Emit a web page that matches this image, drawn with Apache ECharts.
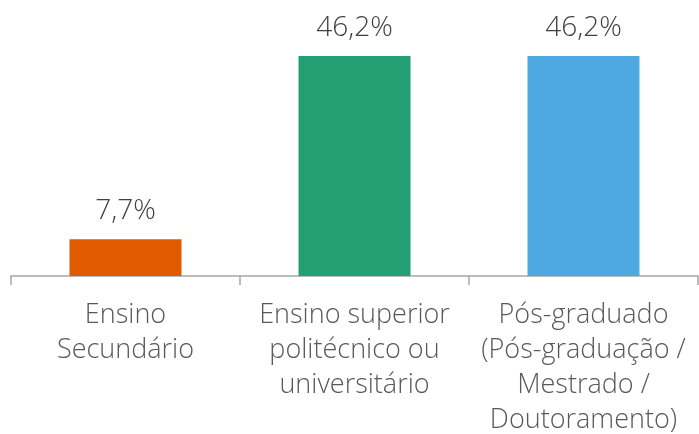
<!DOCTYPE html>
<html>
<head>
<meta charset="utf-8">
<script src="https://cdn.jsdelivr.net/npm/echarts@6/dist/echarts.min.js"></script>
<style>
  html, body { margin: 0; padding: 0; background: #fff; }
  #chart { width: 699px; height: 434px; }
</style>
</head>
<body>
<div id="chart"></div>
<script>
// categorias (nível de escolaridade)
var categories = [
    'Ensino\nSecundário',
    'Ensino superior\npolitécnico ou\nuniversitário',
    'Pós-graduado\n(Pós-graduação /\nMestrado /\nDoutoramento)'
];
// percentagens
var values = [7.7, 46.2, 46.2];
var barColors = ['#E05A00', '#22A073', '#4EA9E3'];

var chart = echarts.init(document.getElementById('chart'));
var fontFam = 'Open Sans';

var option = {
    animation: false,
    grid: { left: 11, right: 1, top: 56, bottom: 158, outerBoundsMode: 'none', containLabel: false },
    xAxis: {
        type: 'category',
        data: categories,
        axisLine: { lineStyle: { color: '#A6A6A6', width: 1.5 } },
        axisTick: { show: true, length: 9, lineStyle: { color: '#A6A6A6', width: 1.5 } },
        axisLabel: {
            interval: 0,
            margin: 22,
            fontFamily: fontFam,
            fontWeight: 300,
            fontSize: 27,
            lineHeight: 35,
            color: '#595959'
        }
    },
    yAxis: {
        type: 'value',
        min: 0,
        max: 46.2,
        show: false,
        splitLine: { show: false }
    },
    series: [{
        type: 'bar',
        barWidth: 112,
        data: values.map(function (v, i) {
            return { value: v, itemStyle: { color: barColors[i] } };
        }),
        label: {
            show: true,
            position: 'top',
            distance: 14,
            fontFamily: fontFam,
            fontWeight: 300,
            fontSize: 28,
            color: '#404040',
            formatter: function (p) {
                return p.value.toFixed(1).replace('.', ',') + '%';
            }
        }
    }]
};
chart.setOption(option);
</script>
</body>
</html>
